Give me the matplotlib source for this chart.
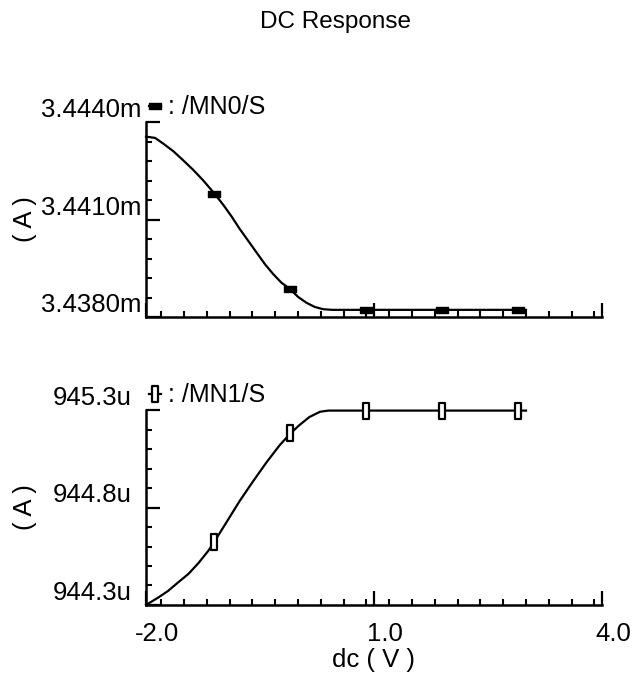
import matplotlib
matplotlib.use("Agg")
import matplotlib.pyplot as plt
from matplotlib.path import Path
from matplotlib.ticker import FixedLocator, MultipleLocator, FuncFormatter
from matplotlib.transforms import ScaledTranslation

plt.rcParams['font.family'] = ['Liberation Sans', 'DejaVu Sans']

# sweep values (V) and currents
dc_mn0 = [-2.0, -1.88, -1.77, -1.64, -1.51, -1.38, -1.25, -1.1, -0.98, -0.87, -0.77, -0.66,
          -0.55, -0.44, -0.33, -0.22, -0.1, 0.0, 0.11, 0.22, 0.33, 0.45, 0.9, 1.9, 2.9, 3.0]
i_mn0 = [3.44355, 3.44351, 3.44333, 3.44310, 3.44282, 3.44253, 3.44221, 3.44180, 3.44144,
         3.44108, 3.44072, 3.44036, 3.44000, 3.43964, 3.43933, 3.43906, 3.43885, 3.43862,
         3.43844, 3.43831, 3.43824, 3.43822, 3.43822, 3.43822, 3.43822, 3.43822]   # mA

dc_mn1 = [-2.0, -1.84, -1.71, -1.58, -1.44, -1.31, -1.18, -1.1, -0.94, -0.77, -0.59, -0.41,
          -0.24, -0.1, 0.02, 0.15, 0.29, 0.4, 0.9, 1.9, 2.9, 3.0]
i_mn1 = [944.300, 944.338, 944.372, 944.415, 944.460, 944.515, 944.578, 944.625, 944.725,
         944.832, 944.935, 945.034, 945.120, 945.180, 945.223, 945.264, 945.291, 945.297,
         945.297, 945.297, 945.297, 945.297]   # uA

mark_mn0 = [7, 16, 22, 23, 24]
mark_mn1 = [7, 13, 18, 19, 20]

labels = ["/MN0/S", "/MN1/S"]
x_major = [-2.0, 1.0, 4.0]
y0_major = [3.4380, 3.4410, 3.4440]
y1_major = [944.3, 944.8, 945.3]

hbox = Path([(-1, -0.55), (1, -0.55), (1, 0.55), (-1, 0.55), (-1, -0.55)], closed=True)
vbox = Path([(-0.42, -1), (0.42, -1), (0.42, 1), (-0.42, 1), (-0.42, -1)], closed=True)

fig = plt.figure(figsize=(6.38, 6.86), dpi=100)
ax0 = fig.add_axes([146/638, 1-317/686, 456/638, 195/686])
ax1 = fig.add_axes([146/638, 1-605/686, 456/638, 195/686])

ax0.plot(dc_mn0, i_mn0, color="black", lw=1.6, marker=hbox, ms=9, mfc="black", mec="black",
         markevery=mark_mn0, clip_on=False, label=": " + labels[0])
ax1.plot(dc_mn1, i_mn1, color="black", lw=1.6, marker=vbox, ms=11, mfc="white", mec="black", mew=1.6,
         markevery=mark_mn1, clip_on=False, label=": " + labels[1])

ax0.set_ylim(3.4380, 3.4440)
ax1.set_ylim(944.3, 945.3)
ax0.yaxis.set_major_locator(FixedLocator(y0_major))
ax0.yaxis.set_minor_locator(MultipleLocator(0.0006))
ax1.yaxis.set_major_locator(FixedLocator(y1_major))
ax1.yaxis.set_minor_locator(MultipleLocator(0.1))
ax0.yaxis.set_major_formatter(FuncFormatter(lambda v, p: "%.4fm" % v))
ax1.yaxis.set_major_formatter(FuncFormatter(lambda v, p: "%.1fu" % v))

for ax in (ax0, ax1):
    ax.set_xlim(-2, 4)
    ax.xaxis.set_major_locator(FixedLocator(x_major))
    ax.xaxis.set_minor_locator(MultipleLocator(0.3))
    ax.xaxis.set_major_formatter(FuncFormatter(lambda v, p: "%.1f" % v))
    ax.spines['top'].set_visible(False)
    ax.spines['right'].set_visible(False)
    ax.spines['left'].set_linewidth(1.8)
    ax.spines['bottom'].set_linewidth(1.8)
    ax.tick_params(which="major", direction="in", length=10, width=1.6, labelsize=18.5)
    ax.tick_params(which="minor", direction="in", length=4.5, width=1.5)
    ax.set_ylabel("( A )", fontsize=18.5)
    ax.yaxis.set_label_coords(-0.24, 0.5)
    ax.legend(loc="lower left", bbox_to_anchor=(0.0, 1.0), frameon=False, handlelength=0.5,
              handletextpad=0.3, borderpad=0, borderaxespad=0.1, fontsize=18, markerscale=1)

ax0.tick_params(axis="x", which="both", labelbottom=False)
ax0.tick_params(axis="y", pad=3)
ax1.tick_params(axis="y", pad=10)
ax1.tick_params(axis="x", pad=12)

for ax in (ax0, ax1):
    for t in ax.yaxis.get_major_ticks():
        t.label1.set_va("bottom")
for t in ax1.xaxis.get_major_ticks():
    t.label1.set_transform(t.label1.get_transform() + ScaledTranslation(0.11, 0, fig.dpi_scale_trans))

ax1.set_xlabel("dc ( V )", fontsize=18.5, labelpad=2)
fig.text(335/638, 1-22/686, "DC Response", ha="center", va="center", fontsize=17.5)

fig.savefig("out.png", dpi=100)
